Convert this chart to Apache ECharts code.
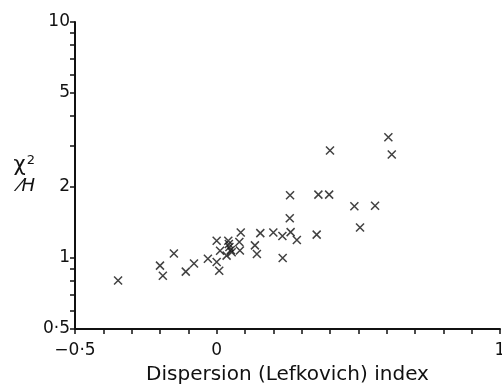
<!DOCTYPE html>
<html><head><meta charset="utf-8">
<script src="https://cdn.jsdelivr.net/npm/echarts@6/dist/echarts.min.js"></script>
<style>html,body{margin:0;padding:0;background:#fff}#c{width:502px;height:387px}</style>
</head><body><div id="c"></div>
<script>
const dispersion = [-0.348,-0.200,-0.190,-0.151,-0.109,-0.080,-0.031,0.000,0.012,0.000,0.009,0.041,0.043,0.045,0.050,0.035,0.053,0.085,0.080,0.082,0.135,0.142,0.154,0.200,0.232,0.261,0.283,0.233,0.258,0.259,0.353,0.359,0.397,0.400,0.486,0.559,0.506,0.606,0.618];
const chiOverH = [0.802,0.928,0.840,1.045,0.875,0.948,0.992,1.183,1.073,0.962,0.882,1.183,1.146,1.113,1.081,1.023,1.057,1.283,1.168,1.075,1.131,1.040,1.274,1.281,1.238,1.287,1.191,1.000,1.474,1.843,1.256,1.855,1.855,2.852,1.656,1.664,1.347,3.245,2.744];
const yTickValues = [0.5,0.6,0.7,0.8,0.9,1,2,3,4,5,6,7,8,9,10];
const yLabelValues = [0.5,1,2,5,10];
const xLabelValues = [-0.5,0,1];

const FONT = 'DejaVu Sans';
const fmt = v => { const r = Math.round(v*1000)/1000; return String(r).replace('-', '\u2212').replace('.', '\u00b7'); };

const chart = echarts.init(document.getElementById('c'), null, {renderer:'canvas'});
chart.setOption({
  animation:false,
  backgroundColor:'#fff',
  grid:{left:75, right:2, top:22, bottom:58, outerBoundsMode:'none', containLabel:false},
  xAxis:{
    type:'value', min:-0.5, max:1, interval:0.1,
    name:'Dispersion (Lefkovich) index', nameLocation:'middle', nameGap:36,
    nameTextStyle:{fontFamily:FONT, fontSize:20, color:'#111'},
    axisLine:{show:true, onZero:false, lineStyle:{color:'#111', width:2}},
    axisTick:{show:true, inside:false, length:5, lineStyle:{color:'#111', width:1.5}},
    axisLabel:{customValues:xLabelValues, formatter:fmt, fontFamily:FONT, fontSize:17, color:'#111', margin:13},
    splitLine:{show:false}
  },
  yAxis:{
    type:'log', logBase:10, min:0.5, max:10,
    name:'{a|χ}{s|2}\n{b|⁄H}', nameLocation:'middle', nameRotate:0, nameGap:40,
    nameTextStyle:{rich:{
      a:{fontFamily:FONT, fontSize:21, color:'#111', lineHeight:22},
      s:{fontFamily:FONT, fontSize:13, color:'#111', lineHeight:22, verticalAlign:'top', padding:[0,0,8,1]},
      b:{fontFamily:FONT, fontSize:18, fontStyle:'italic', color:'#111', lineHeight:20}}},
    axisLine:{show:true, onZero:false, lineStyle:{color:'#111', width:2}},
    axisTick:{show:true, customValues:yTickValues, length:5, lineStyle:{color:'#111', width:1.5}},
    axisLabel:{customValues:yLabelValues, formatter:fmt, fontFamily:FONT, fontSize:17, color:'#111', margin:5},
    splitLine:{show:false}
  },
  series:[{
    type:'scatter',
    data: dispersion.map((x,i)=>[x, chiOverH[i]]),
    symbol:'path://M0,0L10,10M10,0L0,10',
    symbolSize:8,
    itemStyle:{color:'none', borderColor:'#111', borderWidth:1.5}
  }]
});
</script></body></html>
